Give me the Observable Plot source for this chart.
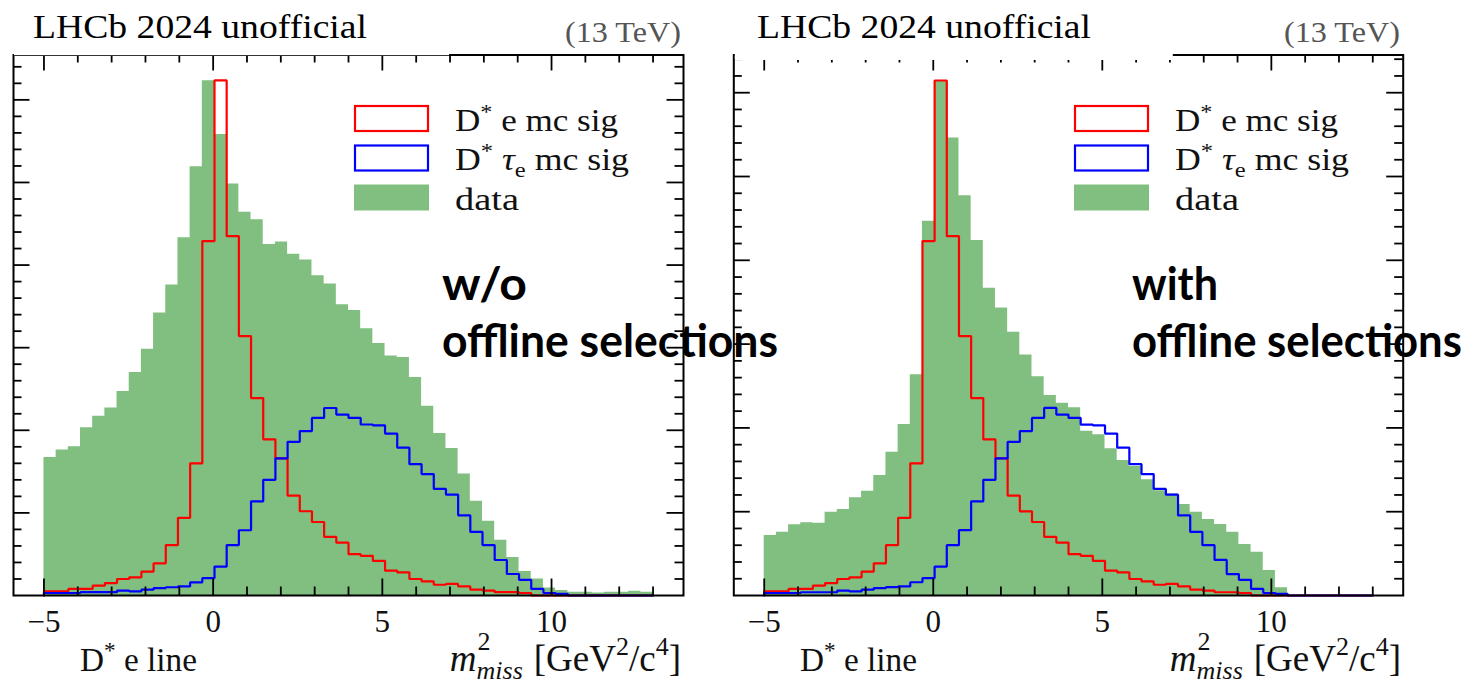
<!DOCTYPE html>
<html>
<head>
<meta charset="utf-8">
<script src="https://cdn.jsdelivr.net/npm/d3@7"></script>
<script src="https://cdn.jsdelivr.net/npm/@observablehq/plot@0.6"></script>
<style>
  html, body { margin: 0; padding: 0; background: #fff; }
  #wrap { position: relative; width: 1473px; height: 685px; overflow: hidden; background: #fff; }
  .panel { position: absolute; top: 0; }
  #overlay { position: absolute; left: 0; top: 0; }
</style>
</head>
<body>
<div id="wrap"></div>
<script>
// ---------------- data (50 bins from -5 to 13, width 0.36) ----------------
const binStart = -5;
const binWidth = 0.36;

// panel 1: w/o offline selections
const dataNoSel = [0.167,0.176,0.180,0.203,0.217,0.227,0.247,0.270,0.298,0.342,
                   0.376,0.433,0.519,0.623,0.558,0.498,0.464,0.455,0.425,0.428,
                   0.413,0.406,0.387,0.377,0.352,0.345,0.323,0.305,0.290,0.288,
                   0.264,0.229,0.196,0.178,0.147,0.114,0.090,0.067,0.046,0.029,
                   0.020,0.009,0.006,0.004,0.004,0.003,0.004,0.004,0.005,0.004];
const eleNoSel  = [0.005,0.005,0.008,0.008,0.012,0.015,0.020,0.022,0.029,0.039,
                   0.061,0.094,0.160,0.429,0.6235,0.435,0.314,0.239,0.189,0.166,
                   0.121,0.102,0.089,0.071,0.064,0.050,0.048,0.042,0.030,0.028,
                   0.020,0.017,0.013,0.014,0.011,0.007,0.006,0.004,0.004,0.003,
                   0,0,0,0,0,0,0,0,0,0];
const tauNoSel  = [0.003,0.003,0.003,0.004,0.004,0.004,0.006,0.005,0.007,0.009,
                   0.010,0.011,0.016,0.021,0.035,0.061,0.079,0.114,0.140,0.166,
                   0.186,0.199,0.215,0.227,0.219,0.215,0.207,0.206,0.196,0.179,
                   0.159,0.147,0.129,0.122,0.097,0.077,0.061,0.043,0.026,0.019,
                   0.008,0.003,0.002,0,0,0,0,0,0,0];

// panel 2: with offline selections
const dataSel = [0.0716,0.0756,0.0843,0.0867,0.0863,0.0994,0.1026,0.1166,0.1245,0.1432,
                 0.171,0.204,0.2633,0.4467,0.6146,0.546,0.477,0.4236,0.3667,0.343,
                 0.3142,0.287,0.261,0.2387,0.2295,0.224,0.196,0.1917,0.175,0.161,
                 0.154,0.138,0.125,0.121,0.1086,0.0994,0.0907,0.0847,0.0756,0.0609,
                 0.0517,0.0298,0.0092,0,0,0,0,0,0,0];
const eleSel  = [0.0049,0.0049,0.0079,0.0079,0.0118,0.0148,0.0197,0.0217,0.0286,0.0384,
                 0.0601,0.0927,0.1577,0.4229,0.6146,0.4288,0.3095,0.2356,0.1863,0.1636,
                 0.1193,0.1005,0.0877,0.0700,0.0631,0.0493,0.0473,0.0414,0.0296,0.0276,
                 0.0197,0.0168,0.0128,0.0138,0.0108,0.0069,0.0059,0.0039,0.0039,0.0030,
                 0,0,0,0,0,0,0,0,0,0];
const tauSel  = [0.0030,0.0030,0.0030,0.0039,0.0039,0.0039,0.0059,0.0049,0.0069,0.0089,
                 0.0099,0.0108,0.0158,0.0207,0.0345,0.0601,0.0779,0.1124,0.1380,0.1636,
                 0.1833,0.1962,0.2119,0.2238,0.2159,0.2119,0.2040,0.2031,0.1932,0.1764,
                 0.1567,0.1449,0.1272,0.1203,0.0956,0.0759,0.0601,0.0424,0.0256,0.0187,
                 0.0079,0.0030,0.0020,0,0,0,0,0,0,0];

// ticks
const xMajorTicks = [-5, 0, 5, 10];
const xMinorTicks = [-4, -3, -2, -1, 1, 2, 3, 4, 6, 7, 8, 9, 11, 12, 13];
const yMajorTicks = [0.1, 0.2, 0.3, 0.4, 0.5, 0.6];
const yMinorTicks = [0.02,0.04,0.06,0.08,0.12,0.14,0.16,0.18,0.22,0.24,0.26,0.28,
                     0.32,0.34,0.36,0.38,0.42,0.44,0.46,0.48,0.52,0.54,0.56,0.58,0.62,0.64];

// texts
const experimentLabel = "LHCb 2024 unofficial";
const energyLabel = "(13 TeV)";
const legendLabels = ["D* e mc sig", "D* τe mc sig", "data"];
const panelNotes = [["w/o", "offline selections"], ["with", "offline selections"]];

const colData = "#80bf80", colEle = "#ff0000", colTau = "#0000ff";

// ---------------- helpers ----------------
function steps(values) {
  const pts = [{x: binStart, y: 0}];
  values.forEach((v, i) => {
    const a = binStart + i * binWidth, b = binStart + (i + 1) * binWidth;
    pts.push({x: a, y: v}, {x: b, y: v});
  });
  pts.push({x: binStart + values.length * binWidth, y: 0});
  return pts;
}

const TOP = 54.5, BOTTOM = 595;

function panel({data, ele, tau, ymax, width, mL, mR}) {
  const plotW = width - mL - mR, plotH = BOTTOM - TOP;
  const tk = {stroke: "black", strokeWidth: 1.8};
  return Plot.plot({
    width, height: 685,
    marginLeft: mL, marginRight: mR, marginTop: TOP, marginBottom: 685 - BOTTOM,
    x: {domain: [-5.9, 13.9], axis: null},
    y: {domain: [0, ymax], axis: null},
    style: {background: "transparent", overflow: "visible"},
    marks: [
      Plot.areaY(steps(data), {x: "x", y1: 0, y2: "y", fill: colData, curve: "linear"}),
      Plot.line(steps(ele), {x: "x", y: "y", stroke: colEle, strokeWidth: 2.2, strokeLinejoin: "miter"}),
      Plot.line(steps(tau), {x: "x", y: "y", stroke: colTau, strokeWidth: 2.2, strokeLinejoin: "miter"}),
      // inward ticks on all four sides
      Plot.ruleX(xMajorTicks, {insetTop: plotH - 16.5, ...tk}),
      Plot.ruleX(xMinorTicks, {insetTop: plotH - 8.5, ...tk}),
      Plot.ruleX(xMajorTicks, {insetBottom: plotH - 16, ...tk}),
      Plot.ruleX(xMinorTicks, {insetBottom: plotH - 8, ...tk}),
      Plot.ruleY(yMajorTicks, {insetRight: plotW - 16.5, ...tk}),
      Plot.ruleY(yMinorTicks, {insetRight: plotW - 8.5, ...tk}),
      Plot.ruleY(yMajorTicks, {insetLeft: plotW - 16.5, ...tk}),
      Plot.ruleY(yMinorTicks, {insetLeft: plotW - 8.5, ...tk}),
      Plot.frame({stroke: "black", strokeWidth: 2}),
      Plot.axisX({ticks: xMajorTicks, tickSize: 0, tickPadding: 14, fontSize: 31,
                  fontFamily: "Liberation Serif", label: null, fill: "#111"})
    ]
  });
}

const wrap = document.getElementById("wrap");
const panels = [
  {left: 0,   data: dataNoSel, ele: eleNoSel, tau: tauNoSel, ymax: 0.6543, width: 720, mL: 13,   mR: 37},
  {left: 720, data: dataSel,   ele: eleSel,   tau: tauSel,   ymax: 0.6450, width: 753, mL: 13.3, mR: 70.3}
];
panels.forEach(p => {
  const div = document.createElement("div");
  div.className = "panel";
  div.style.left = p.left + "px";
  div.appendChild(panel(p));
  wrap.appendChild(div);
});

// ---------------- overlay: labels, legend, annotations ----------------
const svg = d3.create("svg").attr("id", "overlay").attr("width", 1473).attr("height", 685);
wrap.appendChild(svg.node());
const SERIF = "Liberation Serif, DejaVu Serif, serif";
const SANS = "Lato, Open Sans, sans-serif";

function rich(x, y, parts, {size, family = SERIF, anchor = "start", fill = "#111", weight = null, textLength = null, italic = false}) {
  const t = svg.append("text").attr("x", x).attr("y", y)
    .attr("font-size", size).attr("font-family", family)
    .attr("fill", fill).attr("text-anchor", anchor);
  if (weight) t.attr("font-weight", weight);
  if (italic) t.attr("font-style", "italic");
  if (textLength) t.attr("textLength", textLength).attr("lengthAdjust", "spacingAndGlyphs");
  parts.forEach(p => {
    const s = t.append("tspan").text(p.t);
    if (p.dy) s.attr("dy", p.dy);
    if (p.dx) s.attr("dx", p.dx);
    if (p.size) s.attr("font-size", p.size);
    if (p.italic) s.attr("font-style", "italic");
  });
  return t;
}

// bold note text, horizontally scaled to a target width
function note(x, y, str, width) {
  const t = svg.append("text").attr("x", 0).attr("y", 0)
    .attr("font-size", 46).attr("font-family", SANS).attr("font-weight", "bold")
    .attr("fill", "#000").text(str);
  const w = t.node().getComputedTextLength() || width;
  t.attr("transform", `translate(${x},${y}) scale(${width / w},1)`);
}

// x-axis title  m^2_miss [GeV^2/c^4], laid out right-to-left from the frame edge
function massLabel(xEnd, y) {
  const size = 37, small = 26;
  const br = rich(xEnd, y, [{t: "[GeV"}, {t: "2", size: small, dy: -16}, {t: "/c", dy: 16},
                            {t: "4", size: small, dy: -16}, {t: "]", dy: 16}], {size, anchor: "end"});
  const wBr = br.node().getComputedTextLength();
  const xBr = xEnd - wBr - 11;
  const sub = rich(xBr, y + 8, [{t: "miss"}], {size: small, anchor: "end", italic: true});
  const wSub = sub.node().getComputedTextLength();
  const xScript = xBr - wSub;
  rich(xScript + 1, y - 21, [{t: "2"}], {size: small});
  rich(xScript, y, [{t: "m"}], {size, anchor: "end", italic: true});
}

const covers = [{x: 14, w: 435, h: 55.2}, {x: 734.8, w: 438, h: 60}];

[0, 720].forEach((ox, i) => {
  // white label box hiding part of the top frame
  svg.append("rect").attr("x", covers[i].x).attr("y", 0).attr("width", covers[i].w)
     .attr("height", covers[i].h).attr("fill", "#fff");
  rich(33 + ox + (i ? 4 : 0), 38, [{t: experimentLabel}], {size: 34, textLength: 334, fill: "#000"});
  rich(681 + ox + (i ? -1 : 0), 42, [{t: energyLabel}], {size: 29, anchor: "end", fill: "#555", textLength: 116});

  // legend
  svg.append("rect").attr("x", 355 + ox).attr("y", 106).attr("width", 73).attr("height", 25)
     .attr("fill", "none").attr("stroke", colEle).attr("stroke-width", 2.2);
  svg.append("rect").attr("x", 355 + ox).attr("y", 145.5).attr("width", 73).attr("height", 25)
     .attr("fill", "none").attr("stroke", colTau).attr("stroke-width", 2.2);
  svg.append("rect").attr("x", 354 + ox).attr("y", 184.5).attr("width", 75).attr("height", 26)
     .attr("fill", colData);
  rich(455 + ox, 131, [{t: "D"}, {t: "*", size: 22, dy: -12}, {t: " e mc sig", dy: 12}], {size: 32, textLength: 163});
  rich(455 + ox, 170, [{t: "D"}, {t: "*", size: 22, dy: -12}, {t: " ", dy: 12}, {t: "τ", italic: true},
                       {t: "e", size: 22, dy: 7}, {t: " mc sig", dy: -7}], {size: 32, textLength: 174});
  rich(455 + ox, 210, [{t: legendLabels[2]}], {size: 32, textLength: 64});

  // bottom labels
  rich(80 + ox, 671, [{t: "D"}, {t: "*", size: 23, dy: -13}, {t: " e line", dy: 13}], {size: 33, textLength: 117});
  massLabel(681 + ox, 671);
});

// annotations
note(442, 300, panelNotes[0][0], 85);
note(442, 357, panelNotes[0][1], 336);
note(1132, 300, panelNotes[1][0], 86);
note(1132, 357, panelNotes[1][1], 330);
</script>
</body>
</html>
